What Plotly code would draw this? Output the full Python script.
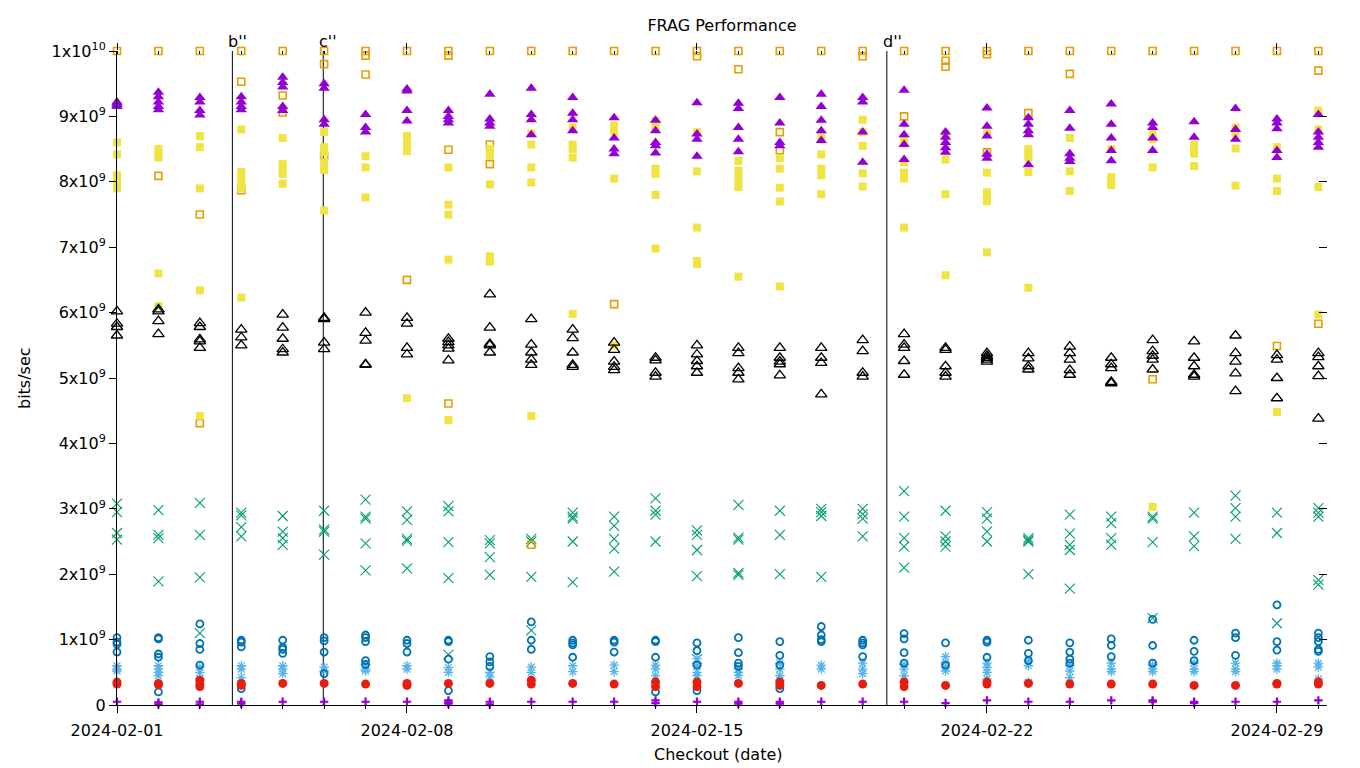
import plotly.graph_objects as go

# ---------------- data (values in units of 1e9 bits/sec) ----------------
dates = ["2024-02-%02d" % d for d in range(1, 30)] + ["2024-03-01"]

frag_plus = [[0.05], [0.04, 0.01], [0.05, 0.01], [0.05, 0.02], [0.05], [0.05], [0.05], [0.05],
             [0.07, 0.04, 0.02], [0.05, 0.01], [0.05], [0.05], [0.05], [0.07, 0.03], [0.05],
             [0.05, 0.02], [0.05, 0.02], [0.05], [0.05], [0.05], [0.03], [0.07], [0.05], [0.05],
             [0.07], [0.07, 0.05], [0.05, 0.03], [0.05], [0.05], [0.07]]

frag_x = [[3.08, 2.95, 2.63, 2.53], [2.98, 2.6, 2.55, 1.89], [3.09, 2.6, 1.95, 1.1],
          [2.94, 2.9, 2.72, 2.58], [2.89, 2.65, 2.55, 2.45], [2.97, 2.68, 2.65, 2.3],
          [3.14, 2.88, 2.85, 2.47, 2.06], [2.96, 2.83, 2.54, 2.51, 2.09],
          [3.04, 2.96, 2.49, 1.94, 0.77], [2.52, 2.47, 2.26, 1.99], [2.54, 2.5, 1.96, 1.14],
          [2.94, 2.88, 2.85, 2.5, 1.88], [2.88, 2.74, 2.54, 2.39, 2.04], [3.16, 2.97, 2.91, 2.5],
          [2.67, 2.6, 2.37, 1.97, 0.7], [3.06, 2.56, 2.53, 2.02, 1.99], [2.97, 2.6, 2.0],
          [3.0, 2.95, 2.89, 1.96], [3.0, 2.92, 2.85, 2.58], [3.27, 2.88, 2.55, 2.42, 2.1],
          [2.97, 2.58, 2.5, 2.42], [2.95, 2.85, 2.65, 2.5], [2.55, 2.52, 2.5, 2.0],
          [2.91, 2.62, 2.45, 2.37, 1.78], [2.88, 2.78, 2.55, 2.45], [2.88, 2.85, 2.49, 1.33],
          [2.94, 2.58, 2.43], [3.2, 3.01, 2.88, 2.54], [2.94, 2.63, 1.25],
          [3.01, 2.94, 2.88, 1.91, 1.84]]

frag_star = [[0.6, 0.55, 0.52], [0.6, 0.55, 0.5, 0.45], [0.58, 0.5, 0.4], [0.6, 0.55, 0.42],
             [0.6, 0.55, 0.48], [0.58, 0.52], [0.62, 0.55, 0.52], [0.6, 0.55], [0.57, 0.5],
             [0.5, 0.43], [0.58, 0.5], [0.6, 0.51], [0.61, 0.51], [0.61, 0.55, 0.45],
             [0.71, 0.6, 0.5, 0.45], [0.55, 0.5, 0.45], [0.64, 0.55, 0.45, 0.38], [0.61, 0.55],
             [0.64, 0.55, 0.48], [0.62, 0.55, 0.45], [0.74, 0.65, 0.58, 0.52],
             [0.64, 0.57, 0.5, 0.4], [0.68, 0.6, 0.35], [0.6, 0.52, 0.42], [0.64, 0.55, 0.51],
             [0.61, 0.55, 0.51], [0.64, 0.55, 0.51], [0.64, 0.55, 0.51], [0.64, 0.6, 0.55],
             [0.64, 0.58, 0.4]]

frag_osq = [[10.0], [10.0, 8.09], [10.0, 7.5, 4.31], [10.0, 9.53, 7.87], [10.0, 9.32, 9.06],
            [10.0, 9.8, 8.4], [10.0, 9.93, 9.64], [10.0, 6.5], [10.0, 9.93, 8.49, 4.61],
            [10.0, 8.57, 8.27], [10.0, 2.45], [10.0], [10.0, 6.13], [10.0], [10.0, 9.92],
            [10.0, 9.72], [10.0, 8.76, 8.48], [10.0], [10.0, 9.92], [10.0, 9.0],
            [10.0, 9.85, 9.76], [10.0, 9.95, 8.45], [10.0, 9.05], [10.0, 9.65], [10.0],
            [10.0, 4.98], [10.0], [10.0], [10.0, 5.49], [10.0, 9.7, 5.83]]

frag_fsq = [[8.6, 8.42, 8.1, 8.0, 7.9], [8.5, 8.42, 8.37, 6.6, 6.1], [8.7, 8.53, 7.9, 6.34, 4.42],
            [8.8, 8.15, 8.07, 8.0, 7.9, 6.23], [8.67, 8.27, 8.2, 8.12, 7.97],
            [8.76, 8.53, 8.45, 8.3, 8.18, 7.56], [8.39, 8.22, 7.76], [8.7, 8.6, 8.55, 8.47, 4.69],
            [8.22, 7.65, 7.5, 6.81, 4.36], [8.5, 8.4, 7.96, 6.86, 6.78],
            [8.74, 8.57, 8.22, 7.99, 4.42], [8.83, 8.57, 8.5, 8.37, 5.98], [8.86, 8.77, 8.05, 5.5],
            [8.93, 8.82, 8.2, 8.12, 7.8, 6.98], [8.76, 8.16, 7.3, 6.79, 6.74],
            [8.32, 8.17, 8.08, 8.0, 7.92, 6.55], [8.36, 8.2, 7.91, 7.7, 6.4],
            [8.7, 8.42, 8.2, 8.1, 7.81], [8.95, 8.76, 8.55, 8.13, 7.93],
            [8.63, 8.3, 8.14, 8.05, 7.3], [8.73, 8.34, 7.81, 6.57],
            [8.74, 8.14, 7.84, 7.78, 7.7, 6.92], [8.5, 8.43, 8.37, 8.15, 6.38],
            [8.67, 8.16, 7.86], [8.5, 8.07, 8.0, 7.95], [8.73, 8.65, 8.22, 3.03],
            [8.57, 8.5, 8.43, 8.24], [8.83, 8.75, 8.51, 7.94], [8.53, 8.05, 7.86, 4.48],
            [9.09, 8.8, 7.92, 5.97]]

frag_ocirc = [[1.03, 0.96, 0.93, 0.81], [1.03, 1.01, 0.78, 0.73, 0.2], [1.24, 0.94, 0.85, 0.61],
              [0.99, 0.96, 0.89, 0.25], [0.99, 0.88, 0.85, 0.79], [1.03, 0.98, 0.81, 0.48],
              [1.07, 1.03, 0.97, 0.68, 0.62], [0.99, 0.94, 0.81], [0.99, 0.97, 0.7, 0.22],
              [0.74, 0.66, 0.59], [1.27, 0.99, 0.85], [0.99, 0.95, 0.92, 0.73],
              [0.99, 0.96, 0.81], [0.99, 0.97, 0.73, 0.2], [0.95, 0.83, 0.61, 0.22],
              [1.03, 0.8, 0.64, 0.59], [0.97, 0.76, 0.61, 0.25], [1.2, 1.07, 1.0, 0.97],
              [0.99, 0.95, 0.92, 0.74], [1.09, 1.01, 0.8, 0.64], [0.95, 0.61],
              [0.99, 0.96, 0.73], [0.99, 0.79, 0.68], [0.95, 0.81, 0.7, 0.64],
              [1.01, 0.91, 0.74], [1.31, 0.91, 0.64], [0.99, 0.82, 0.68], [1.1, 1.03, 0.76],
              [1.53, 0.97, 0.84], [1.1, 1.03, 0.97, 0.85, 0.82]]

frag_fcirc = [[0.35, 0.32], [0.33, 0.31], [0.38, 0.32, 0.28], [0.33, 0.3], [0.33], [0.33], [0.32],
              [0.33, 0.3], [0.33], [0.33], [0.38, 0.32], [0.33], [0.32], [0.35, 0.28],
              [0.35, 0.28], [0.33], [0.35, 0.3], [0.3], [0.32], [0.35, 0.28], [0.3],
              [0.35, 0.32], [0.33], [0.32], [0.32], [0.32], [0.3], [0.3], [0.33, 0.32],
              [0.35, 0.32]]

frag_otri = [[6.02, 5.83, 5.78, 5.65], [6.05, 6.02, 5.87, 5.67], [5.84, 5.78, 5.59, 5.56, 5.46],
             [5.74, 5.62, 5.5], [5.97, 5.77, 5.6, 5.44, 5.39], [5.92, 5.9, 5.54, 5.44],
             [6.0, 5.69, 5.57, 5.21, 5.2], [5.92, 5.83, 5.46, 5.36], [5.6, 5.55, 5.5, 5.45, 5.27],
             [6.28, 5.77, 5.52, 5.5, 5.39], [5.9, 5.51, 5.39, 5.28, 5.2],
             [5.74, 5.61, 5.39, 5.2, 5.17], [5.54, 5.43, 5.25, 5.17, 5.12],
             [5.31, 5.27, 5.08, 5.02], [5.5, 5.36, 5.26, 5.18, 5.08],
             [5.46, 5.38, 5.15, 5.08, 4.98], [5.46, 5.31, 5.25, 5.21, 5.04],
             [5.46, 5.31, 5.23, 4.75], [5.58, 5.41, 5.08, 5.02], [5.67, 5.51, 5.46, 5.26, 5.05],
             [5.46, 5.43, 5.18, 5.08, 5.02], [5.38, 5.34, 5.31, 5.28, 5.25],
             [5.38, 5.3, 5.18, 5.13], [5.48, 5.38, 5.28, 5.12, 5.05],
             [5.31, 5.21, 5.15, 4.94, 4.92], [5.58, 5.41, 5.34, 5.28, 5.13],
             [5.56, 5.31, 5.18, 5.05, 5.02], [5.65, 5.38, 5.25, 5.07, 4.8],
             [5.35, 5.28, 5.0, 4.69], [5.38, 5.32, 5.18, 5.03, 4.38]]

frag_ftri = [[9.22, 9.2, 9.18, 9.15], [9.37, 9.3, 9.22, 9.15, 9.1], [9.29, 9.22, 9.09, 9.02],
             [9.3, 9.22, 9.15, 9.1], [9.6, 9.52, 9.45, 9.15, 9.09], [9.5, 9.43, 8.95, 8.88],
             [9.03, 8.83, 8.76], [9.42, 9.39, 9.09, 8.93], [9.09, 9.0, 8.95, 8.9],
             [9.34, 8.96, 8.9, 8.85], [9.43, 9.03, 8.95, 8.72], [9.29, 9.05, 8.95, 8.78],
             [8.98, 8.67, 8.5, 8.43], [8.94, 8.78, 8.6, 8.55, 8.44], [9.21, 8.73, 8.65, 8.39],
             [9.2, 9.12, 8.83, 8.65, 8.46], [9.29, 8.9, 8.6, 8.55],
             [9.34, 9.15, 8.94, 8.78, 8.63], [9.29, 9.22, 8.76, 8.3],
             [9.4, 8.88, 8.72, 8.57, 8.34], [8.76, 8.68, 8.6, 8.52, 8.45],
             [9.13, 8.85, 8.7, 8.42, 8.36], [8.98, 8.88, 8.78, 8.72, 8.26],
             [9.09, 8.82, 8.43, 8.36, 8.31], [9.19, 8.88, 8.67, 8.48, 8.32],
             [8.9, 8.83, 8.67, 8.48], [8.92, 8.68], [9.12, 8.8, 8.65],
             [8.96, 8.9, 8.81, 8.48, 8.37], [9.03, 8.76, 8.68, 8.6, 8.53]]

event_labels = ["b''", "c''", "d''"]
event_times = ["2024-02-03 18:50", "2024-02-05 23:30", "2024-02-19 14:00"]

xtick_vals = ["2024-02-01", "2024-02-08", "2024-02-15", "2024-02-22", "2024-02-29"]
ytick_vals = [i * 1e9 for i in range(11)]
ytick_text = ["0"] + ["%dx10<sup>9</sup>" % i for i in range(1, 10)] + ["1x10<sup>10</sup>"]

# ---------------- styles ----------------
styles = [
    (frag_plus, dict(symbol="cross-thin", size=6, color="#9400d3", line=dict(width=2.2, color="#9400d3"))),
    (frag_x, dict(symbol="x-thin", size=10, color="#009e73", line=dict(width=1.1, color="#009e73"))),
    (frag_star, dict(symbol="asterisk", size=8, color="#56b4e9", line=dict(width=1.3, color="#56b4e9"))),
    (frag_osq, dict(symbol="square-open", size=7, color="#e69f00", line=dict(width=1.6, color="#e69f00"))),
    (frag_fsq, dict(symbol="square", size=8, color="#f0e442", line=dict(width=0))),
    (frag_ocirc, dict(symbol="circle-open", size=7, color="#0072b2", line=dict(width=1.8, color="#0072b2"))),
    (frag_fcirc, dict(symbol="circle", size=9, color="#e51e10", line=dict(width=0))),
    (frag_otri, dict(symbol="triangle-up-open", size=10, color="black", line=dict(width=1.3, color="black"))),
    (frag_ftri, dict(symbol="triangle-up", size=10, color="#9400d3", line=dict(width=0))),
]

fig = go.Figure()
for series, marker in styles:
    xs, ys = [], []
    for d, vals in zip(dates, series):
        for v in vals:
            xs.append(d)
            ys.append(v * 1e9)
    fig.add_trace(go.Scatter(x=xs, y=ys, mode="markers", marker=marker,
                             cliponaxis=False, showlegend=False, hoverinfo="x+y"))

# dummy trace to activate mirror axes
fig.add_trace(go.Scatter(x=[dates[0]], y=[0], xaxis="x2", yaxis="y2", mode="markers",
                         marker=dict(opacity=0), showlegend=False, hoverinfo="skip"))

for lab, t in zip(event_labels, event_times):
    fig.add_shape(type="line", x0=t, x1=t, y0=0, y1=1e10, xref="x", yref="y",
                  line=dict(color="black", width=1), layer="below")
    fig.add_annotation(x=t, y=1, xref="x", yref="paper", text=lab, showarrow=False,
                       xanchor="left", yanchor="bottom", xshift=-6, yshift=-2,
                       font=dict(size=16, color="black"))

W, H = 1360, 768
ML, MR, MT, MB = 117, 33, 51, 63
plot_w = W - ML - MR
plot_h = H - MT - MB

# axis titles as annotations (pixel positions converted to paper coords)
fig.add_annotation(x=(24 - ML) / plot_w, y=(H - MB - 378) / plot_h, xref="paper", yref="paper",
                   text="bits/sec", showarrow=False, textangle=-90,
                   xanchor="center", yanchor="middle", font=dict(size=16, color="black"))
fig.add_annotation(x=(718 - ML) / plot_w, y=(H - MB - 755) / plot_h, xref="paper", yref="paper",
                   text="Checkout (date)", showarrow=False,
                   xanchor="center", yanchor="middle", font=dict(size=16, color="black"))

xrange = ["2024-02-01", "2024-03-01 05:00"]
font = dict(family="DejaVu Sans", size=16, color="black")

fig.update_layout(
    width=W, height=H,
    paper_bgcolor="white", plot_bgcolor="white",
    margin=dict(l=ML, r=MR, t=MT, b=MB, autoexpand=False),
    font=font,
    title=dict(text="FRAG Performance", x=722 / W, xanchor="center",
               xref="container", yref="container", y=1 - 25 / H, yanchor="middle",
               font=dict(size=16, family="DejaVu Sans", color="black")),
    xaxis=dict(type="date", range=xrange, tickvals=xtick_vals, tickformat="%Y-%m-%d",
               automargin=False, ticklabelstandoff=4,
               showgrid=False, zeroline=False, showline=True, linecolor="black", linewidth=1,
               ticks="outside", ticklen=7, tickcolor="black", tickwidth=1,
               minor=dict(dtick=86400000, ticks="outside", ticklen=3, tickcolor="black", showgrid=False)),
    xaxis2=dict(type="date", range=xrange, matches="x", overlaying="x", side="top",
                automargin=False,
                tickvals=xtick_vals, showticklabels=False, showgrid=False, zeroline=False,
                showline=False, ticks="outside", ticklen=7, tickcolor="black",
                minor=dict(dtick=86400000, ticks="inside", ticklen=3, tickcolor="black", showgrid=False)),
    yaxis=dict(range=[0, 1e10], tickvals=ytick_vals, ticktext=ytick_text, automargin=False,
               showgrid=False, zeroline=False, showline=True, linecolor="black", linewidth=1,
               ticks="outside", ticklen=7, tickcolor="black"),
    yaxis2=dict(range=[0, 1e10], matches="y", overlaying="y", side="right", automargin=False,
                tickvals=ytick_vals[1:], showticklabels=False, showgrid=False, zeroline=False,
                showline=False, ticks="inside", ticklen=8, tickcolor="black"),
)

fig.write_html("out.html", config={"displayModeBar": False},
               post_script="document.body.style.margin='0px';")
